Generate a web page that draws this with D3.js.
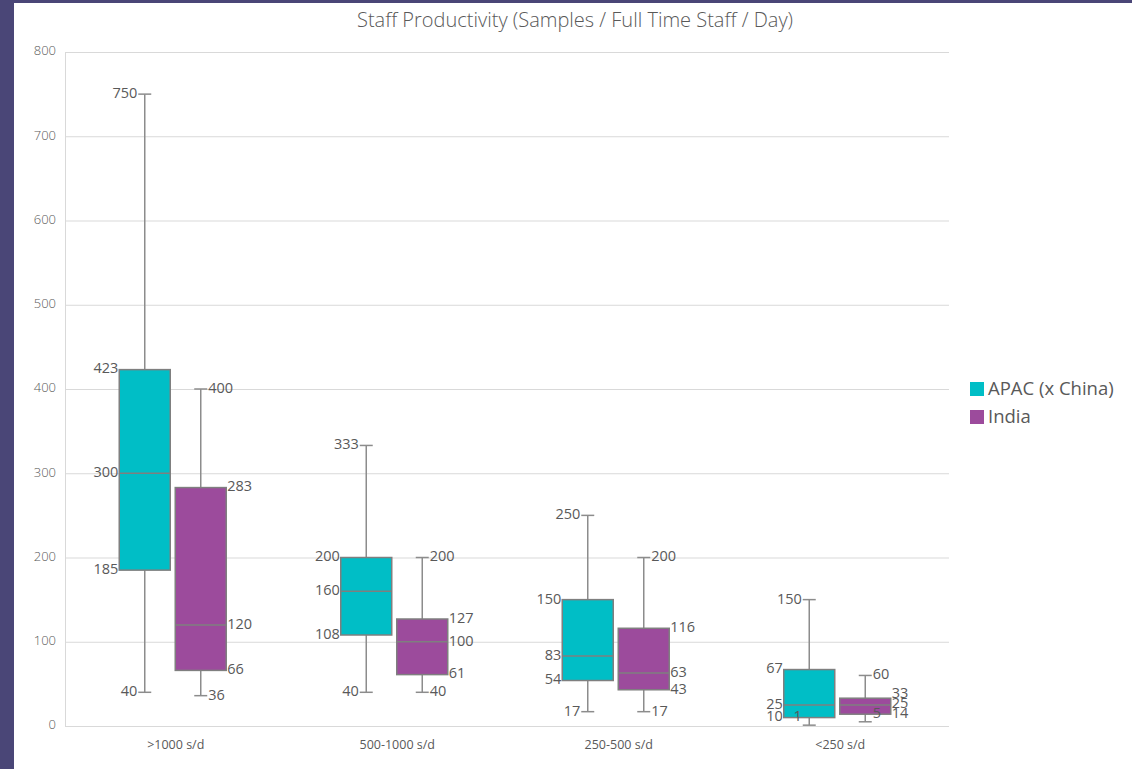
<!DOCTYPE html>
<html>
<head>
<meta charset="utf-8">
<script src="https://cdn.jsdelivr.net/npm/d3@7"></script>
<style>
  body { margin: 0; background: #4a4677; }
  #chart { position: absolute; left: 14px; top: 3px; }
</style>
</head>
<body>
<div id="chart"></div>
<script>
// data
var categories = [">1000 s/d", "500-1000 s/d", "250-500 s/d", "<250 s/d"];
var seriesNames = ["APAC (x China)", "India"];
var apacMin = [40, 40, 17, 1];
var apacQ1  = [185, 108, 54, 10];
var apacMed = [300, 160, 83, 25];
var apacQ3  = [423, 200, 150, 67];
var apacMax = [750, 333, 250, 150];
var indiaMin = [36, 40, 17, 5];
var indiaQ1  = [66, 61, 43, 14];
var indiaMed = [120, 100, 63, 25];
var indiaQ3  = [283, 127, 116, 33];
var indiaMax = [400, 200, 200, 60];
var yTicks = [0, 100, 200, 300, 400, 500, 600, 700, 800];

(function(){
  var W = 1118, H = 766;
  var ox = 14, oy = 3; // offset of the white panel
  var colApac = "#00bec6", colIndia = "#9c4b9c";
  var txt = "#595959";

  var svg = d3.select("#chart").append("svg")
      .attr("width", W).attr("height", H)
      .style("background", "#fff");
  var g = svg.append("g").attr("transform", "translate(" + (-ox) + "," + (-oy) + ")");

  var y = d3.scaleLinear().domain([0, 800]).range([726, 52]);
  var x = d3.scaleBand().domain(categories).range([65, 951]);

  // title
  g.append("text")
    .attr("x", 575).attr("y", 22)
    .attr("text-anchor", "middle").attr("dominant-baseline", "middle")
    .attr("font-family", "Open Sans").attr("font-weight", 300)
    .attr("font-size", "20px").attr("fill", txt)
    .text("Staff Productivity (Samples / Full Time Staff / Day)");

  // gridlines
  g.append("g")
    .attr("transform", "translate(65,0)")
    .call(d3.axisLeft(y).tickValues(yTicks).tickSize(-884).tickFormat(""))
    .call(function(s){
      s.select(".domain").attr("stroke", "#d9d9d9");
      s.selectAll(".tick line").attr("stroke", "#d9d9d9");
    });

  // y tick labels
  g.selectAll(".ylab").data(yTicks).enter().append("text")
    .attr("x", 56).attr("y", function(d){ return y(d); })
    .attr("text-anchor", "end").attr("dominant-baseline", "middle")
    .attr("font-family", "Open Sans").attr("font-weight", 300)
    .attr("font-size", "13px").attr("fill", txt)
    .text(function(d){ return d; });

  // x labels
  g.selectAll(".xlab").data(categories).enter().append("text")
    .attr("x", function(d){ return x(d) + x.bandwidth() / 2; })
    .attr("y", 746)
    .attr("text-anchor", "middle").attr("dominant-baseline", "middle")
    .attr("font-family", "Open Sans")
    .attr("font-size", "12.5px").attr("fill", txt)
    .text(function(d){ return d; });

  var series = [
    { name: seriesNames[0], col: colApac, off: -31, side: -1,
      min: apacMin, q1: apacQ1, med: apacMed, q3: apacQ3, max: apacMax },
    { name: seriesNames[1], col: colIndia, off: 25, side: 1,
      min: indiaMin, q1: indiaQ1, med: indiaMed, q3: indiaQ3, max: indiaMax }
  ];

  var bw = 51, cap = 13;
  series.forEach(function(s){
    categories.forEach(function(c, i){
      var cx = x(c) + x.bandwidth() / 2 + s.off;
      var bg = g.append("g");
      // whisker
      bg.append("line")
        .attr("x1", cx).attr("x2", cx)
        .attr("y1", y(s.max[i])).attr("y2", y(s.min[i]))
        .attr("stroke", "#8c8c8c").attr("stroke-width", 1.5);
      [s.max[i], s.min[i]].forEach(function(v){
        bg.append("line")
          .attr("x1", cx - cap / 2).attr("x2", cx + cap / 2)
          .attr("y1", y(v)).attr("y2", y(v))
          .attr("stroke", "#8c8c8c").attr("stroke-width", 1.5);
      });
      // box
      bg.append("rect")
        .attr("x", cx - bw / 2).attr("y", y(s.q3[i]))
        .attr("width", bw).attr("height", y(s.q1[i]) - y(s.q3[i]))
        .attr("fill", s.col).attr("stroke", "#7f7f7f").attr("stroke-width", 1.5);
      bg.append("line")
        .attr("x1", cx - bw / 2).attr("x2", cx + bw / 2)
        .attr("y1", y(s.med[i])).attr("y2", y(s.med[i]))
        .attr("stroke", "#7f7f7f").attr("stroke-width", 1.5);

      // labels
      var boxEdge = cx + s.side * (bw / 2 + 1);
      var capEdge = cx + s.side * (cap / 2 + 1);
      var boxLabs = [
        { v: s.q3[i], xx: boxEdge, yy: y(s.q3[i]) },
        { v: s.med[i], xx: boxEdge, yy: y(s.med[i]) },
        { v: s.q1[i], xx: boxEdge, yy: y(s.q1[i]) }
      ];
      // spread box labels that sit too close together
      for (var k = 1; k < boxLabs.length; k++) {
        if (boxLabs[k].yy - boxLabs[k - 1].yy < 10) {
          boxLabs[k - 1].yy = Math.min(boxLabs[k - 1].yy, boxLabs[k].yy - 10);
          if (k > 1 && boxLabs[k - 1].yy - boxLabs[k - 2].yy < 10)
            boxLabs[k - 2].yy = boxLabs[k - 1].yy - 10;
        }
      }
      var minY = y(s.min[i]);
      // min label sits on the q1 line when they crowd (as in the reference)
      if (minY - y(s.q1[i]) < 10) minY = y(s.q1[i]);
      var labels = [{ v: s.max[i], xx: capEdge, yy: y(s.max[i]) }]
        .concat(boxLabs)
        .concat([{ v: s.min[i], xx: capEdge, yy: minY }]);
      bg.selectAll("text").data(labels).enter().append("text")
        .attr("x", function(d){ return d.xx; })
        .attr("y", function(d){ return d.yy; })
        .attr("text-anchor", s.side < 0 ? "end" : "start")
        .attr("dominant-baseline", "middle")
        .attr("font-family", "Open Sans")
        .attr("font-size", "14.5px").attr("fill", txt)
        .text(function(d){ return d.v; });
    });
  });

  // legend
  var lg = g.append("g").attr("transform", "translate(970,382)");
  series.forEach(function(s, i){
    lg.append("rect").attr("x", 0).attr("y", i * 28)
      .attr("width", 14).attr("height", 14).attr("fill", s.col);
    lg.append("text").attr("x", 18).attr("y", i * 28 + 8)
      .attr("dominant-baseline", "middle")
      .attr("font-family", "Open Sans").attr("font-size", "18.5px")
      .attr("fill", txt).text(s.name);
  });
})();
</script>
</body>
</html>
